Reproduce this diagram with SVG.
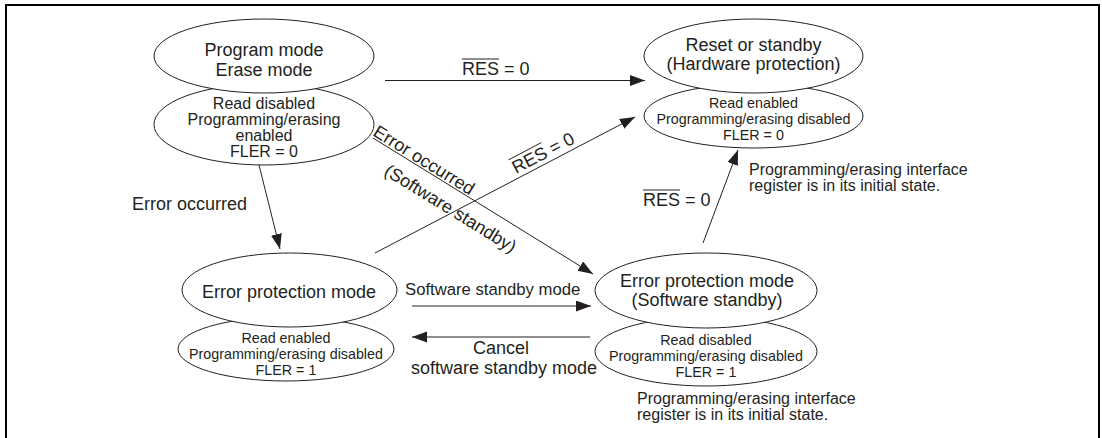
<svg xmlns="http://www.w3.org/2000/svg" width="1102" height="438" viewBox="0 0 1102 438">
<defs>
<style>
text{font-family:"Liberation Sans",Arial,Helvetica,sans-serif;fill:#231f20}
.big{font-size:18px}
.mid{font-size:16px}
.sm{font-size:14.3px}
.c{text-anchor:middle}
ellipse{fill:#fff;stroke:#231f20;stroke-width:1}
.edge{stroke:#231f20;stroke-width:1;fill:none}
.arr{marker-end:url(#ah)}
.ovl{stroke:#231f20;stroke-width:1}
</style>
<marker id="ah" markerUnits="userSpaceOnUse" markerWidth="16" markerHeight="12" refX="15" refY="5.5" orient="auto">
<path d="M0,0 L15,5.5 L0,11 z" fill="#231f20"/>
</marker>
</defs>
<rect width="1102" height="438" fill="#fff"/>
<path d="M6,440 V5 H1099 V440" fill="none" stroke="#000" stroke-width="2"/>

<g id="node-program">
<ellipse cx="264" cy="124.5" rx="110" ry="40.5"/>
<ellipse cx="264" cy="56" rx="110" ry="37"/>
<text class="big c" x="264" y="56">Program mode</text>
<text class="big c" x="264" y="76">Erase mode</text>
<text class="mid c" x="264" y="109">Read disabled</text>
<text class="mid c" x="264" y="125">Programming/erasing</text>
<text class="mid c" x="264" y="141">enabled</text>
<text class="mid c" x="264" y="157">FLER = 0</text>
</g>

<g id="node-reset">
<ellipse cx="753.5" cy="116" rx="109.5" ry="32"/>
<ellipse cx="753.5" cy="56" rx="109.5" ry="37"/>
<text class="big c" x="753.5" y="51">Reset or standby</text>
<text class="big c" x="753.5" y="70">(Hardware protection)</text>
<text class="sm c" x="753.5" y="108">Read enabled</text>
<text class="sm c" x="753.5" y="124">Programming/erasing disabled</text>
<text class="sm c" x="753.5" y="140">FLER = 0</text>
<text class="mid" x="749" y="175">Programming/erasing interface</text>
<text class="mid" x="749" y="191">register is in its initial state.</text>
</g>

<g id="node-error">
<ellipse cx="286" cy="349" rx="108" ry="32"/>
<ellipse cx="289.5" cy="290" rx="107.5" ry="37"/>
<text class="big c" x="289" y="298">Error protection mode</text>
<text class="sm c" x="286" y="343">Read enabled</text>
<text class="sm c" x="286" y="359">Programming/erasing disabled</text>
<text class="sm c" x="286" y="375">FLER = 1</text>
</g>

<g id="node-error-sw">
<ellipse cx="706" cy="351.5" rx="111" ry="34.5"/>
<ellipse cx="706" cy="290.5" rx="111" ry="37.5"/>
<text class="big c" x="707" y="287">Error protection mode</text>
<text class="big c" x="707" y="306">(Software standby)</text>
<text class="sm c" x="706" y="345">Read disabled</text>
<text class="sm c" x="706" y="361">Programming/erasing disabled</text>
<text class="sm c" x="706" y="377">FLER = 1</text>
<text class="mid" x="637" y="404">Programming/erasing interface</text>
<text class="mid" x="637" y="420">register is in its initial state.</text>
</g>

<g id="connectors">
<line class="edge arr" x1="385" y1="80.5" x2="645" y2="80.5"/>
<line class="edge arr" x1="375" y1="253" x2="635" y2="117"/>
<line class="edge arr" x1="373" y1="138" x2="593" y2="274"/>
<line class="edge arr" x1="259" y1="165" x2="280" y2="249"/>
<line class="edge arr" x1="703" y1="243" x2="738" y2="150"/>
<line class="edge arr" x1="412" y1="306" x2="591" y2="306"/>
<line class="edge arr" x1="590" y1="337" x2="412" y2="337"/>

<text class="big" x="462" y="75">RES = 0</text>
<line class="ovl" x1="462" y1="59" x2="499" y2="59"/>

<g transform="translate(516,174) rotate(-27.7)">
<text class="big" x="0" y="0">RES = 0</text>
<line class="ovl" x1="0" y1="-16" x2="37" y2="-16"/>
</g>

<text class="big" transform="translate(372,135) rotate(31.7)">Error occurred</text>
<text class="big" transform="translate(383,174) rotate(31.7)">(Software standby)</text>

<text class="big" x="132" y="210">Error occurred</text>

<text class="big" x="643" y="206">RES = 0</text>
<line class="ovl" x1="643" y1="190" x2="680" y2="190"/>

<text x="405" y="295" style="font-size:16.7px">Software standby mode</text>
<text class="big c" x="501" y="354">Cancel</text>
<text class="big c" x="504" y="374">software standby mode</text>
</g>
</svg>
